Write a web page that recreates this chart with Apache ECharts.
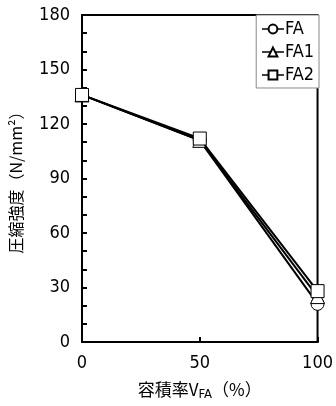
<!DOCTYPE html>
<html>
<head>
<meta charset="utf-8">
<script src="https://cdn.jsdelivr.net/npm/echarts@6/dist/echarts.min.js"></script>
<style>
  html, body { margin: 0; padding: 0; background: #fff; }
  #chart { width: 336px; height: 406px; }
</style>
</head>
<body>
<div id="chart"></div>
<script>
// volume fraction V_FA (%)
const volumeRatio = [0, 50, 100];
const seriesNames = ['FA', 'FA1', 'FA2'];
const strengthFA = [136, 111, 21];
const strengthFA1 = [136, 111, 25];
const strengthFA2 = [136, 112, 28];
const seriesSymbols = ['circle', 'triangle', 'rect'];

const numFont = '"Liberation Sans Narrow", "DejaVu Sans Condensed", "Noto Sans CJK JP", sans-serif';
const jpFont = '"Noto Sans CJK JP", sans-serif';

const chart = echarts.init(document.getElementById('chart'));

const dataSets = [strengthFA, strengthFA1, strengthFA2];
const series = seriesNames.map((name, i) => ({
    name: name,
    type: 'line',
    data: volumeRatio.map((x, j) => [x, dataSets[i][j]]),
    symbol: seriesSymbols[i],
    symbolSize: i === 1 ? 14 : 13,
    showAllSymbol: true,
    lineStyle: { color: '#000', width: 2 },
    itemStyle: { color: '#fff', borderColor: '#000', borderWidth: 1 },
    z: 2 + i
}));

chart.setOption({
    animation: false,
    grid: {
        left: 82,
        right: 17,
        top: 15,
        bottom: 61,
        show: true,
        borderColor: '#000',
        borderWidth: 2
    },
    legend: {
        orient: 'vertical',
        right: 17,
        top: 15,
        itemWidth: 22,
        itemHeight: 11,
        itemGap: 5,
        padding: [5, 5, 4, 5],
        borderColor: '#888',
        borderWidth: 1,
        backgroundColor: '#fff',
        lineStyle: { width: 1.5 },
        textStyle: { fontFamily: numFont, fontSize: 18, color: '#000', padding: [0, 0, 0, -4] },
        data: seriesNames
    },
    xAxis: {
        type: 'value',
        min: 0,
        max: 100,
        interval: 50,
        name: '容積率V{sub|FA}（%）',
        nameLocation: 'middle',
        nameGap: 37,
        nameTextStyle: {
            fontFamily: jpFont,
            fontSize: 17,
            color: '#000',
            rich: {
                sub: { fontFamily: numFont, fontSize: 13, color: '#000', verticalAlign: 'bottom', padding: [9, 0, 0, 0] }
            }
        },
        axisLine: { lineStyle: { color: '#000', width: 2 } },
        axisTick: { inside: true, length: 5, lineStyle: { color: '#000', width: 2 } },
        axisLabel: { fontFamily: numFont, fontSize: 18, color: '#000', margin: 12 },
        splitLine: { show: false }
    },
    yAxis: {
        type: 'value',
        min: 0,
        max: 180,
        interval: 30,
        name: '圧縮強度（N/mm²）',
        nameLocation: 'middle',
        nameGap: 58,
        nameTextStyle: { fontFamily: jpFont, fontSize: 16, color: '#000' },
        axisLine: { lineStyle: { color: '#000', width: 2 } },
        axisTick: { inside: true, length: 5, lineStyle: { color: '#000', width: 2 } },
        minorTick: { show: true, splitNumber: 3, length: 5, lineStyle: { color: '#000', width: 2 } },
        axisLabel: { fontFamily: numFont, fontSize: 18, color: '#000', margin: 12 },
        splitLine: { show: false }
    },
    series: series
});
</script>
</body>
</html>
